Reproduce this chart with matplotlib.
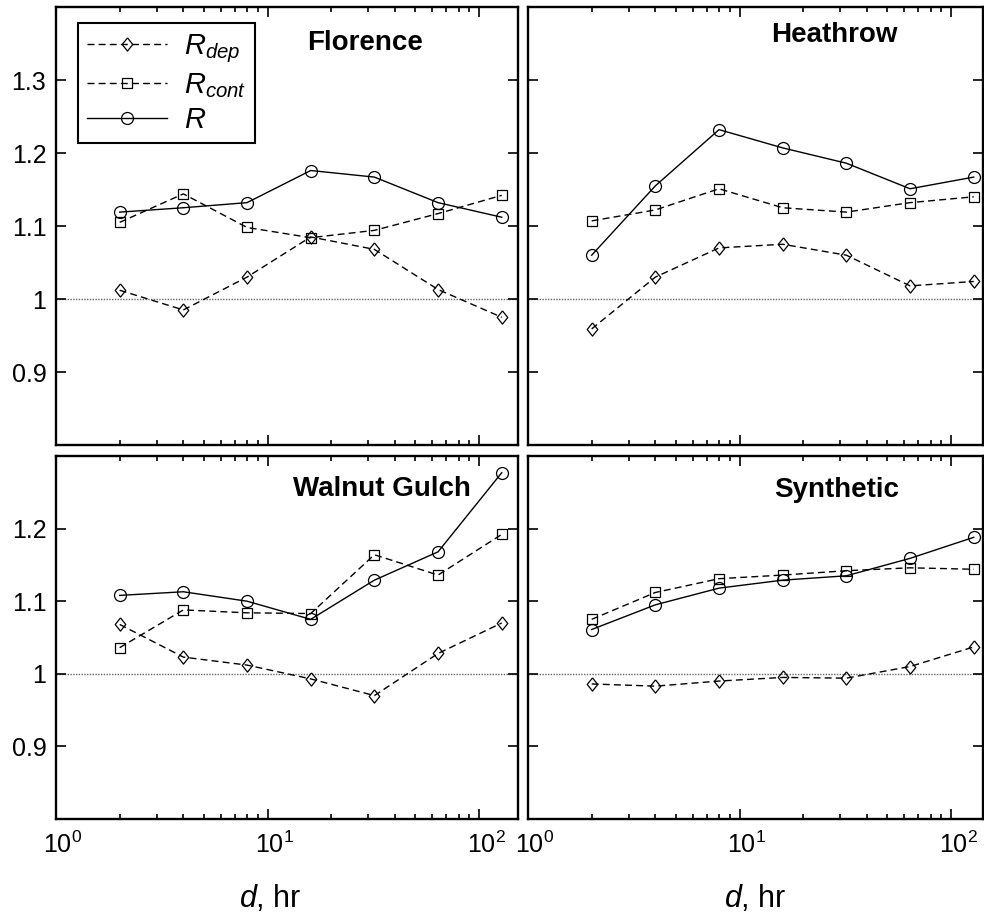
import matplotlib
matplotlib.use("Agg")
import matplotlib.pyplot as plt
from matplotlib.ticker import FixedLocator, FuncFormatter
from matplotlib.transforms import ScaledTranslation

plt.rcParams['font.family'] = ['Liberation Sans', 'DejaVu Sans']
plt.rcParams['mathtext.fontset'] = 'custom'
plt.rcParams['mathtext.rm'] = 'Liberation Sans'
plt.rcParams['mathtext.it'] = 'Liberation Sans:italic'
plt.rcParams['mathtext.bf'] = 'Liberation Sans:bold'

# durations (hr)
d = [2, 4, 8, 16, 32, 64, 128]

# Florence
flo_dep = [1.012, 0.985, 1.030, 1.085, 1.068, 1.013, 0.975]
flo_cont = [1.105, 1.144, 1.098, 1.084, 1.094, 1.117, 1.142]
flo_r = [1.119, 1.125, 1.132, 1.176, 1.167, 1.132, 1.112]

# Heathrow
hea_dep = [0.959, 1.030, 1.070, 1.075, 1.060, 1.018, 1.024]
hea_cont = [1.107, 1.122, 1.151, 1.125, 1.119, 1.132, 1.140]
hea_r = [1.060, 1.155, 1.232, 1.207, 1.186, 1.151, 1.167]

# Walnut Gulch
wal_dep = [1.068, 1.023, 1.012, 0.993, 0.970, 1.028, 1.070]
wal_cont = [1.036, 1.088, 1.084, 1.083, 1.164, 1.136, 1.192]
wal_r = [1.108, 1.113, 1.100, 1.075, 1.129, 1.168, 1.277]

# Synthetic
syn_dep = [0.986, 0.983, 0.990, 0.995, 0.994, 1.010, 1.037]
syn_cont = [1.075, 1.112, 1.131, 1.136, 1.142, 1.146, 1.144]
syn_r = [1.061, 1.095, 1.118, 1.129, 1.135, 1.159, 1.188]

W, H = 984, 913
fig = plt.figure(figsize=(W / 100, H / 100), dpi=100)

def box(x0, y0, x1, y1):
    # pixel box -> figure fraction
    return [x0 / W, (H - y1) / H, (x1 - x0) / W, (y1 - y0) / H]

diamond = [(0, 1), (0.8, 0), (0, -1), (-0.8, 0), (0, 1)]
dash = (0, (5, 3))

panels = [
    ("Florence", flo_dep, flo_cont, flo_r, box(56, 7, 518, 445), (1, 152.8), (0.8, 1.4), (0.669, 0.918)),
    ("Heathrow", hea_dep, hea_cont, hea_r, box(528, 7, 983, 445), (1, 141.6), (0.8, 1.4), (0.674, 0.936)),
    ("Walnut Gulch", wal_dep, wal_cont, wal_r, box(56, 456, 518, 819), (1, 152.8), (0.8, 1.3), (0.706, 0.910)),
    ("Synthetic", syn_dep, syn_cont, syn_r, box(528, 456, 983, 819), (1, 141.6), (0.8, 1.3), (0.679, 0.906)),
]

shift = ScaledTranslation(5 / 72, 0, fig.dpi_scale_trans)

for i, (name, rdep, rcont, r, pos, xl, yl, tpos) in enumerate(panels):
    ax = fig.add_axes(pos)
    ax.set_xscale('log')
    ax.axhline(1.0, color='#666666', lw=1.0, ls=(0, (1, 1)), zorder=1)
    ax.plot(d, rdep, color='black', lw=1.0, ls=dash, marker=diamond, ms=9.5,
            mfc='none', mec='black', mew=0.9, label=r'$R_{dep}$')
    ax.plot(d, rcont, color='black', lw=1.0, ls=dash, marker='s', ms=7.5,
            mfc='none', mec='black', mew=0.9, label=r'$R_{cont}$')
    ax.plot(d, r, color='black', lw=1.0, ls='-', marker='o', ms=8.6,
            mfc='none', mec='black', mew=0.9, label=r'$R$')
    ax.set_xlim(*xl)
    ax.set_ylim(*yl)
    top = yl[1] > 1.35
    yt = [0.9, 1.0, 1.1, 1.2, 1.3] if top else [0.9, 1.0, 1.1, 1.2]
    ax.yaxis.set_major_locator(FixedLocator(yt))
    ax.yaxis.set_major_formatter(FuncFormatter(lambda v, p: '%g' % v))
    ax.tick_params(which='both', direction='in', top=True, right=True, width=1.2)
    ax.tick_params(which='major', length=7, labelsize=18, pad=7)
    ax.tick_params(which='minor', length=3.5)
    ax.tick_params(axis='x', which='major', pad=9)
    for s in ax.spines.values():
        s.set_linewidth(1.7)
    if i % 2 == 1:
        ax.tick_params(labelleft=False)
    if top:
        ax.tick_params(labelbottom=False)
    else:
        ax.set_xlabel(r'$d$, hr', fontsize=22)
        ax.xaxis.set_label_coords(0.463 if i == 2 else 0.5, -0.175)
        fig.canvas.draw()
        for lab in ax.get_xticklabels():
            lab.set_transform(lab.get_transform() + shift)
    ax.text(tpos[0], tpos[1], name, transform=ax.transAxes, ha='center', va='center',
            fontsize=20, fontweight='bold')
    if i == 0:
        leg = ax.legend(loc='upper left', bbox_to_anchor=(0.0476, 0.9635), borderaxespad=0,
                        fontsize=21, handlelength=2.75, labelspacing=0.22, fancybox=False,
                        framealpha=1, edgecolor='black', borderpad=0.3, handletextpad=0.6)
        leg.get_frame().set_linewidth(1.5)

fig.savefig('out.png', dpi=100)
